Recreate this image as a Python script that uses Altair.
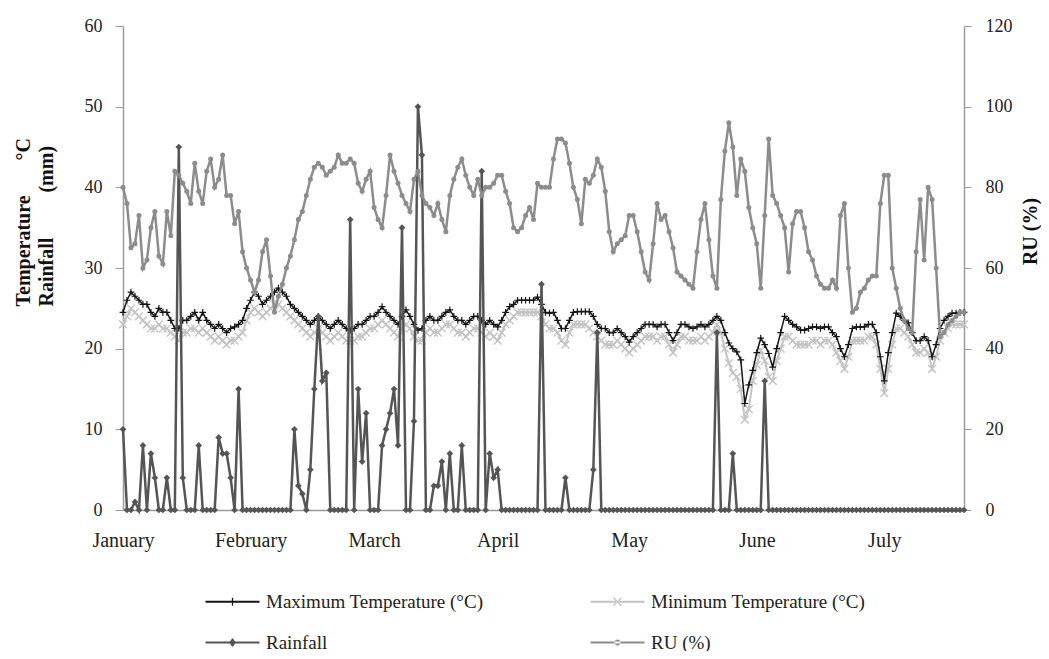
import altair as alt
import pandas as pd

# ---------------- data ----------------
month_labels = ["January", "February", "March", "April", "May", "June", "July"]
month_ticks = [0, 32, 63, 94, 127, 159, 191]

series_names = ["Maximum Temperature (°C)", "Minimum Temperature (°C)", "Rainfall", "RU (%)"]
series_colors = ["#151515", "#c4c4c4", "#555555", "#8c8c8c"]

max_temp = [
    24.5, 26, 27, 26.5, 26, 25.5, 25.5, 24.5, 24, 25,
    24.5, 24.5, 23.5, 22.5, 22.5, 23.5, 23.5, 24, 24.5, 23.5,
    24.5, 23.5, 23, 22.5, 23, 22.5, 22, 22.5, 22.7, 23,
    23.5, 25, 26, 27, 26.5, 25.5, 26, 26.5, 27, 27.5,
    27, 26.5, 25.5, 25, 24.5, 24, 23.5, 23, 23.5, 24,
    23.5, 23, 22.5, 23, 23.5, 23, 22.5, 22.3, 22.5, 23,
    23, 23.5, 24, 24, 24.5, 25.2, 24.5, 24, 23.5, 23,
    24, 24.8, 24, 23, 22.3, 22.5, 23.5, 24, 23.5, 23.5,
    24, 24.5, 24.8, 24, 23.5, 23.5, 23, 23.5, 24, 24,
    23.5, 23, 23.5, 23, 22.7, 23.5, 24.5, 25.2, 25.5, 26,
    26, 26, 26, 26, 26.4, 25.5, 24.5, 24.4, 24.5, 23.5,
    22.5, 22.5, 23.5, 24.5, 24.6, 24.6, 24.6, 24.6, 24, 23,
    22.5, 22.5, 22, 22, 22.5, 22, 21.5, 20.8, 21.5, 22,
    22.5, 23, 23, 23, 22.7, 23, 23, 22, 21, 22,
    23, 23, 22.7, 22.5, 22.7, 23, 22.7, 23, 23.5, 24,
    23.5, 22, 20.7, 20, 19.6, 18.6, 13.2, 15.5, 17.3, 19.5,
    21.3, 20.5, 19.4, 17.7, 20, 22, 24, 23.5, 23, 22.7,
    22.3, 22.3, 22.5, 22.7, 22.7, 22.5, 22.7, 22.7, 22, 21.5,
    20, 19, 20.5, 22.5, 22.7, 22.7, 22.7, 23, 23, 22,
    19, 16, 19.5, 22, 24.4, 24, 23.5, 23.2, 22, 21,
    21, 21.5, 21, 19, 20.5, 22.5, 23.5, 24, 24.4, 24.4,
    24.5, 24.5,
]

min_temp = [
    23, 24, 25, 24.5, 24, 23.5, 23, 22.5, 22.5, 23,
    22.5, 22.5, 22, 21.5, 21, 22, 22, 22.5, 22.5, 22,
    22.5, 22, 21.5, 21, 21.5, 21, 20.5, 21, 21, 21.5,
    22, 23.5, 24.5, 25, 24.5, 24, 24.5, 25, 25.5, 25.5,
    25, 24.5, 24, 23.5, 23, 22.5, 22, 21.5, 22, 22.5,
    22, 21.5, 21, 21.5, 22, 21.5, 21, 21, 21, 21.5,
    21.5, 22, 22.5, 22.5, 23, 23.5, 23, 22.5, 22, 21.5,
    22.5, 23, 22.5, 21.5, 21, 21, 22, 22.5, 22, 22,
    22.5, 23, 23, 22.5, 22, 22, 21.5, 22, 22.5, 22.5,
    22, 21.5, 22, 21.5, 21, 22, 23, 23.5, 24, 24.5,
    24.5, 24.5, 24.5, 24.5, 24.5, 24, 23, 22.5, 22.5, 22,
    21, 20.5, 22, 23, 23, 23, 23, 22.5, 22, 21.5,
    21, 20.5, 20.5, 20.5, 21, 20.5, 20, 19.5, 20, 20.5,
    21, 21.5, 21.5, 21.5, 21, 21.5, 21.5, 20.5, 19.5, 20.5,
    21.5, 21.5, 21, 21, 21, 21.5, 21, 21.5, 22, 23,
    22, 20, 18.2, 17, 16.5, 15, 11.2, 12.5, 16, 18,
    19.8, 18.5, 16.5, 16, 18.5, 20, 21.5, 21.5, 21, 20.5,
    20.5, 20.5, 20.5, 21, 21, 20.5, 21, 21, 20.5, 19.5,
    18.5, 17.5, 19, 21, 21, 21, 21, 21.5, 21.5, 20.5,
    17.5, 14.5, 17.5, 20.5, 22.5, 22.5, 22, 21.5, 20.5, 19.5,
    19.5, 20, 19.5, 17.5, 19, 21, 22, 22.5, 23, 23,
    23, 23,
]

rainfall = [
    10, 0, 0, 1, 0, 8, 0, 7, 4, 0,
    0, 4, 0, 0, 45, 4, 0, 0, 0, 8,
    0, 0, 0, 0, 9, 7, 7, 4, 0, 15,
    0, 0, 0, 0, 0, 0, 0, 0, 0, 0,
    0, 0, 0, 10, 3, 2, 0, 5, 15, 24,
    16, 17, 0, 0, 0, 0, 0, 36, 0, 15,
    6, 12, 0, 0, 0, 8, 10, 12, 15, 8,
    35, 0, 0, 11, 50, 44, 0, 0, 3, 3,
    6, 0, 7, 0, 0, 8, 0, 0, 0, 0,
    42, 0, 7, 4, 5, 0, 0, 0, 0, 0,
    0, 0, 0, 0, 0, 28, 0, 0, 0, 0,
    0, 4, 0, 0, 0, 0, 0, 0, 5, 22,
    0, 0, 0, 0, 0, 0, 0, 0, 0, 0,
    0, 0, 0, 0, 0, 0, 0, 0, 0, 0,
    0, 0, 0, 0, 0, 0, 0, 0, 0, 22,
    0, 0, 0, 7, 0, 0, 0, 0, 0, 0,
    0, 16, 0, 0, 0, 0, 0, 0, 0, 0,
    0, 0, 0, 0, 0, 0, 0, 0, 0, 0,
    0, 0, 0, 0, 0, 0, 0, 0, 0, 0,
    0, 0, 0, 0, 0, 0, 0, 0, 0, 0,
    0, 0, 0, 0, 0, 0, 0, 0, 0, 0,
    0, 0,
]

ru = [
    80, 76, 65, 66, 73, 60, 62, 70, 74, 63,
    61, 74, 68, 84, 83, 81, 79, 76, 86, 79,
    76, 84, 87, 80, 82, 88, 78, 78, 71, 74,
    64, 60, 57, 54, 57, 64, 67, 58, 49, 53,
    56, 60, 63, 67, 72, 74, 78, 82, 85, 86,
    85, 83, 84, 85, 88, 86, 86, 87, 86, 81,
    79, 82, 84, 75, 72, 70, 78, 88, 84, 81,
    78, 76, 74, 82, 84, 78, 76, 75, 73, 76,
    72, 69, 78, 82, 85, 87, 83, 80, 78, 82,
    78, 80, 80, 81, 83, 83, 79, 76, 70, 69,
    70, 73, 75, 72, 81, 80, 80, 80, 87, 92,
    92, 91, 86, 80, 77, 71, 82, 81, 83, 87,
    85, 79, 69, 64, 66, 67, 68, 73, 73, 69,
    64, 59, 57, 66, 76, 72, 73, 69, 65, 59,
    58, 57, 56, 55, 64, 72, 76, 67, 58, 55,
    77, 89, 96, 90, 78, 87, 84, 75, 70, 66,
    55, 73, 92, 78, 76, 73, 70, 59, 71, 74,
    74, 70, 64, 62, 58, 56, 55, 55, 57, 55,
    73, 76, 60, 49, 50, 54, 55, 57, 58, 58,
    76, 83, 83, 60, 55, 50, 47, 45, 44, 64,
    77, 62, 80, 77, 60, 43, 44, 46, 47, 48,
    49, 49,
]

n = len(max_temp)
assert all(len(s) == n for s in (min_temp, rainfall, ru)), [len(s) for s in (max_temp, min_temp, rainfall, ru)]

df = pd.DataFrame({
    "day": list(range(n)),
    "max_t": max_temp,
    "min_t": min_temp,
    "rain": rainfall,
    "ru": ru,
})

# ---------------- styling ----------------
SERIF = "Liberation Serif"
AXIS_GREY = "#9a9a9a"
TEXT = "#222222"
NB = "\u00a0"

PLUS = "M-1,0H1M0,-1V1"
XMARK = "M-1,-1L1,1M-1,1L1,-1"

# legend symbols (unit = 9 px): a short line running left of the symbol box,
# with the series marker drawn in its middle
LEG_LINE = "M-5,-0.11H1V0.11H-5Z"
legend_paths = [
    LEG_LINE + "M-2.07,-0.45H-1.93V0.45H-2.07Z",
    LEG_LINE + "M-2.5,-0.39L-2.39,-0.5L-1.5,0.39L-1.61,0.5Z"
               "M-2.5,0.39L-2.39,0.5L-1.5,-0.39L-1.61,-0.5Z",
    LEG_LINE + "M-2,-0.5L-1.62,0L-2,0.5L-2.38,0Z",
    LEG_LINE + "M-2.33,0a0.33,0.33 0 1,0 0.66,0a0.33,0.33 0 1,0 -0.66,0Z",
]

label_expr = " : ".join(
    f"datum.value == {d} ? '{m}'" for d, m in zip(month_ticks, month_labels)
) + " : ''"

x_enc = alt.X(
    "day:Q",
    scale=alt.Scale(domain=[0, n - 1], nice=False, zero=False),
    axis=alt.Axis(
        values=month_ticks, labelExpr=label_expr, ticks=False, tickSize=0,
        grid=False, domainColor=AXIS_GREY, domainWidth=1.5,
        labelFont=SERIF, labelFontSize=20, labelColor=TEXT,
        labelPadding=20, labelOverlap=False, labelFlush=False, title=None,
    ),
)

left_scale = alt.Scale(domain=[0, 60], nice=False)
left_axis = alt.Axis(
    values=[0, 10, 20, 30, 40, 50, 60], grid=False,
    domainColor=AXIS_GREY, domainWidth=1.5, tickColor=AXIS_GREY, tickSize=8,
    labelPadding=13, labelFont=SERIF, labelFontSize=18, labelColor=TEXT,
    title=["Temperature" + NB * 7 + "°C", "Rainfall" + NB * 9 + "(mm)"],
    titleFont=SERIF, titleFontSize=20, titleFontWeight="bold", titleColor="#111111",
    titleAngle=270, titleAlign="left", titleBaseline="top",
    titleX=-110, titleY=280, titleLineHeight=23,
)

right_scale = alt.Scale(domain=[0, 120], nice=False)
right_axis = alt.Axis(
    orient="right", values=[0, 20, 40, 60, 80, 100, 120], grid=False,
    domainColor=AXIS_GREY, domainWidth=1.5, tickColor=AXIS_GREY, tickSize=7,
    labelPadding=14, labelFont=SERIF, labelFontSize=18, labelColor=TEXT,
    title="RU (%)", titleFont=SERIF, titleFontSize=20, titleFontWeight="bold",
    titleColor="#111111", titleAngle=270, titleAlign="center", titleBaseline="middle",
    titleX=66, titleY=205,
)

base = alt.Chart(df)


def series(field, color, width, point_mark, y_scale, y_axis):
    y = alt.Y(f"{field}:Q", scale=y_scale, axis=y_axis)
    line = base.mark_line(color=color, strokeWidth=width).encode(x=x_enc, y=y)
    pts = base.mark_point(**point_mark, color=color, opacity=1).encode(x=x_enc, y=y)
    return [line, pts]


min_layers = series("min_t", series_colors[1], 2.0,
                    dict(shape=XMARK, size=60, filled=False, strokeWidth=1.4),
                    left_scale, left_axis)
max_layers = series("max_t", series_colors[0], 1.5,
                    dict(shape=PLUS, size=45, filled=False, strokeWidth=1.2),
                    left_scale, left_axis)
rain_layers = series("rain", series_colors[2], 2.5,
                     dict(shape="diamond", size=45, filled=True),
                     left_scale, left_axis)
ru_layers = series("ru", series_colors[3], 2.5,
                   dict(shape="circle", size=25, filled=True),
                   right_scale, right_axis)

legend = alt.Legend(
    title=None, orient="none", legendX=118, legendY=566,
    direction="horizontal", columns=2, columnPadding=106, rowPadding=21,
    symbolSize=324, symbolStrokeWidth=0,
    labelFont=SERIF, labelFontSize=19, labelColor=TEXT, labelLimit=400,
    labelOffset=6, padding=0, offset=0,
)

legend_layer = (
    alt.Chart(pd.DataFrame({"series": series_names}))
    .transform_filter("false")
    .mark_point(filled=True, opacity=1)
    .encode(
        color=alt.Color("series:N", scale=alt.Scale(domain=series_names, range=series_colors), legend=legend),
        shape=alt.Shape("series:N", scale=alt.Scale(domain=series_names, range=legend_paths), legend=legend),
    )
)

left = alt.layer(*min_layers, *max_layers, *rain_layers, legend_layer)
right = alt.layer(*ru_layers)

chart = (
    alt.layer(left, right)
    .resolve_scale(y="independent")
    .properties(
        width=841, height=484,
        autosize=alt.AutoSizeParams(type="none"),
        padding={"left": 115, "top": 18, "right": 77, "bottom": 141},
        background="white",
    )
    .configure(font=SERIF)
    .configure_legend(labelFont=SERIF, labelFontSize=19, labelColor=TEXT)
    .configure_view(stroke=None)
)

chart.save("out.html", embed_options={"renderer": "svg", "actions": False})
